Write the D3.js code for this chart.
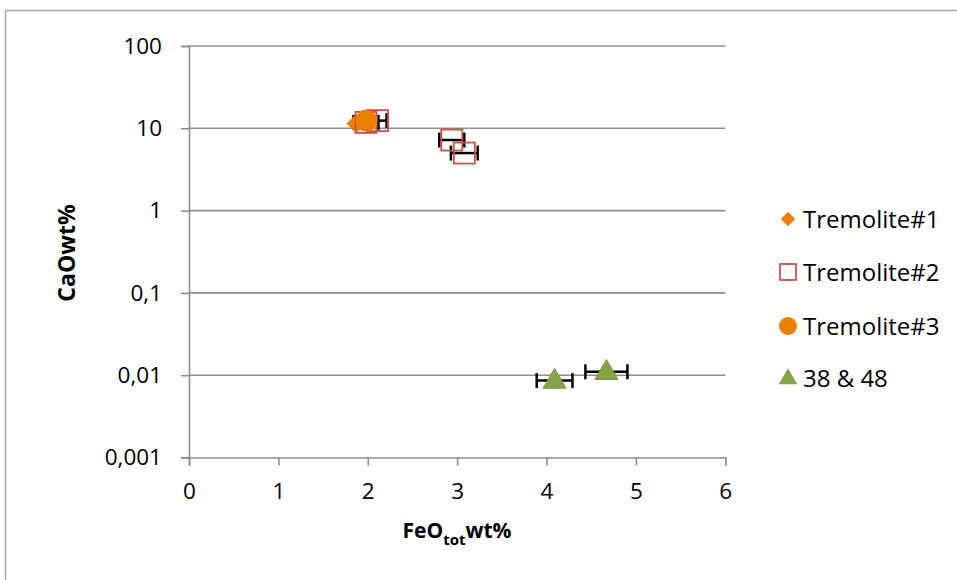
<!DOCTYPE html>
<html>
<head>
<meta charset="utf-8">
<script src="https://cdn.jsdelivr.net/npm/d3@7"></script>
<style>
  body { margin: 0; background: #fff; }
  svg { display: block; font-family: "Open Sans", sans-serif; }
</style>
</head>
<body>
<svg id="chart" width="957" height="580"></svg>
<script>
// ---- data ----
const seriesNames = ["Tremolite#1", "Tremolite#2", "Tremolite#3", "38 & 48"];
const trem1X = [1.87];
const trem1Y = [11.4];
const trem2X = [1.98, 2.11, 2.94, 3.08];
const trem2Y = [11.8, 12.4, 7.2, 5.0];
const trem2Err = [0.14, 0.10, 0.14, 0.15];
const trem3X = [1.985];
const trem3Y = [12.4];
const grpX = [4.09, 4.67];
const grpY = [0.0086, 0.0110];
const grpErr = [0.20, 0.235];
const xTicks = [0, 1, 2, 3, 4, 5, 6];
const yTicks = [100, 10, 1, 0.1, 0.01, 0.001];
const yTickLabels = ["100", "10", "1", "0,1", "0,01", "0,001"];

const svg = d3.select("#chart");
const x = d3.scaleLinear().domain([0, 6]).range([189, 725.3]);
const y = d3.scaleLog().domain([0.001, 100]).range([457.5, 46]);

const gridColor = "#8e8e8e";
const orange = "#EC7F00";
const red = "#C9504D";
const green = "#86A24A";

// outer border
svg.append("rect").attr("x", 5.5).attr("y", 10.5).attr("width", 1000).attr("height", 1000)
  .attr("fill", "none").attr("stroke", "#a6a6a6").attr("stroke-width", 1.5);

// gridlines
svg.append("g").selectAll("line").data(yTicks.slice(0, -1)).join("line")
  .attr("x1", x(0)).attr("x2", x(6))
  .attr("y1", d => y(d)).attr("y2", d => y(d))
  .attr("stroke", gridColor).attr("stroke-width", 1.6);

// y axis
const yAxis = d3.axisLeft(y).tickValues(yTicks)
  .tickFormat((d, i) => yTickLabels[i]).tickSize(8).tickPadding(19);
const gy = svg.append("g").attr("transform", `translate(${x(0)},0)`).call(yAxis);
gy.select(".domain").attr("stroke", gridColor).attr("stroke-width", 1.6);
gy.selectAll(".tick line").attr("stroke", gridColor).attr("stroke-width", 1.6);
gy.selectAll(".tick text").attr("font-size", 22.5).attr("fill", "#000")
  .attr("font-family", "Open Sans, sans-serif");

// x axis
const xAxis = d3.axisBottom(x).tickValues(xTicks).tickFormat(d3.format("d"))
  .tickSize(8).tickPadding(18);
const gx = svg.append("g").attr("transform", `translate(0,${y(0.001)})`).call(xAxis);
gx.select(".domain").attr("stroke", gridColor).attr("stroke-width", 1.6);
gx.selectAll(".tick line").attr("stroke", gridColor).attr("stroke-width", 1.6);
gx.selectAll(".tick text").attr("font-size", 22.5).attr("fill", "#000")
  .attr("font-family", "Open Sans, sans-serif");

// error bars
function errorBars(xs, ys, errs) {
  const g = svg.append("g").attr("stroke", "#000").attr("stroke-width", 2.5);
  xs.forEach((xv, i) => {
    const yy = y(ys[i]);
    g.append("line").attr("x1", x(xv - errs[i])).attr("x2", x(xv + errs[i]))
      .attr("y1", yy).attr("y2", yy);
    [xv - errs[i], xv + errs[i]].forEach(e => {
      g.append("line").attr("x1", x(e)).attr("x2", x(e))
        .attr("y1", yy - 7.5).attr("y2", yy + 7.5);
    });
  });
}
errorBars(trem2X, trem2Y, trem2Err);
errorBars(grpX, grpY, grpErr);

// markers
const diamond = d3.symbol().type(d3.symbolDiamond2);
const tri = d3.symbol().type(d3.symbolTriangle);

svg.append("g").selectAll("path").data(trem1X).join("path")
  .attr("d", diamond.size(240)())
  .attr("transform", (d, i) => `translate(${x(d)},${y(trem1Y[i])})`)
  .attr("fill", orange);

svg.append("g").selectAll("rect").data(trem2X).join("rect")
  .attr("x", d => x(d) - 10.5).attr("y", (d, i) => y(trem2Y[i]) - 10.5)
  .attr("width", 21).attr("height", 21)
  .attr("fill", "none").attr("stroke", red).attr("stroke-width", 1.8);

svg.append("g").selectAll("circle").data(trem3X).join("circle")
  .attr("cx", d => x(d)).attr("cy", (d, i) => y(trem3Y[i])).attr("r", 11)
  .attr("fill", orange);

svg.append("g").selectAll("path").data(grpX).join("path")
  .attr("d", tri.size(230)())
  .attr("transform", (d, i) => `translate(${x(d)},${y(grpY[i]) + 1})`)
  .attr("fill", green).attr("stroke", "#7a9642").attr("stroke-width", 1);

// legend
const legY = [219, 272, 326, 378];
const lg = svg.append("g");
lg.append("path").attr("d", d3.symbol().type(d3.symbolDiamond2).size(130)())
  .attr("transform", `translate(788,${legY[0]})`).attr("fill", orange);
lg.append("rect").attr("x", 780).attr("y", legY[1] - 8).attr("width", 16).attr("height", 16)
  .attr("fill", "#fff").attr("stroke", red).attr("stroke-width", 1.8);
lg.append("circle").attr("cx", 788).attr("cy", legY[2]).attr("r", 9).attr("fill", orange);
lg.append("path").attr("d", d3.symbol().type(d3.symbolTriangle).size(150)())
  .attr("transform", `translate(788,${legY[3] + 1})`).attr("fill", green);
lg.selectAll("text").data(seriesNames).join("text")
  .attr("x", 803).attr("y", (d, i) => legY[i])
  .attr("dy", "0.36em").attr("font-size", 24).attr("fill", "#000")
  .text(d => d);

// axis titles
svg.append("text").attr("transform", "translate(75,253) rotate(-90)")
  .attr("text-anchor", "middle").attr("font-size", 23).attr("font-weight", "bold")
  .text("CaOwt%");

const xt = svg.append("text").attr("x", 457).attr("y", 538)
  .attr("text-anchor", "middle").attr("font-size", 21).attr("font-weight", "bold");
xt.append("tspan").text("FeO");
xt.append("tspan").attr("font-size", 15).attr("dy", 7).text("tot");
xt.append("tspan").attr("dy", -7).text("wt%");
</script>
</body>
</html>
